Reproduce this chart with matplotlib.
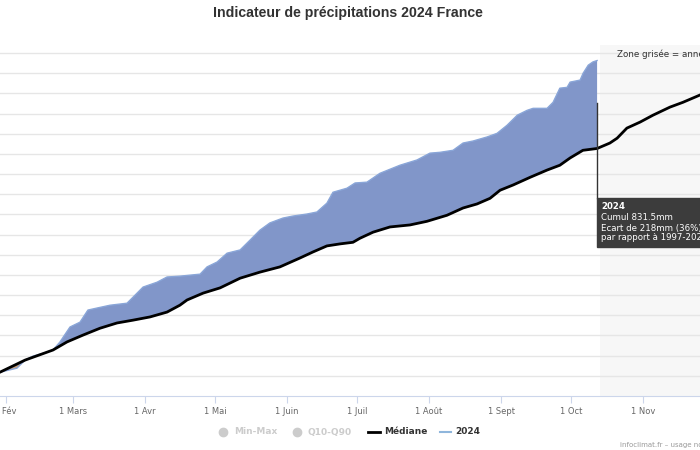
import numpy as np
import pandas as pd
import matplotlib
matplotlib.use("Agg")
import matplotlib.pyplot as plt
from matplotlib.lines import Line2D
from matplotlib.patches import Rectangle

# jours depuis le 1er janvier 2024 et cumul en mm
jours_2024 = [0, 16, 28.6, 35.9, 39.4, 42.8, 47.9, 51.4, 54.4, 58.7, 63, 66.4, 70.3, 75.9,
              83.2, 85.8, 90.1, 96.1, 100.4, 105.9, 114.6, 117.6, 121.9, 126.2, 131.8,
              136, 140.3, 144.6, 150.2, 154.5, 160.5, 164.8, 169.1, 171.7, 177.7, 181.2,
              186.3, 191.9, 196.2, 200.5, 207.8, 213.4, 217.7, 223.3, 227.6, 231.9, 237.9,
              242.2, 246.5, 250.9, 255.1, 257.7, 263.7, 266.3, 269.2, 272.3, 273.6, 277.9,
              279.2, 281.4, 283.4, 285.2]
cumul_2024 = [0, 31, 59, 69, 89, 99, 107, 114, 134, 171, 183, 213, 218, 225,
              230, 245, 270, 282, 295, 297, 302, 320, 332, 354, 362,
              386, 411, 429, 441, 446, 451, 456, 478, 505, 515, 528,
              530, 552, 562, 572, 585, 602, 604, 609, 627, 632, 642,
              651, 671, 696, 708, 713, 713, 728, 763, 765, 778, 783,
              800, 820, 828, 831.5]

jours_med = [0, 16, 28.6, 39.4, 51.4, 57.4, 64.3, 71.6, 78.9, 85.8, 93.1, 100.4, 105.9,
             109, 115.9, 123.2, 131.8, 140.3, 148.9, 157.5, 163.1, 169.1, 174.7, 180.3,
             183.3, 188.9, 196.2, 204.8, 212.1, 220.7, 227.6, 233.6, 239.2, 243.5, 249.1,
             256.4, 263.7, 269.2, 273.6, 279.1, 285.2, 290.7, 293.8, 298, 303.7, 309.2,
             316.5, 322.1, 329.4, 337, 345, 355, 365]
mediane = [0, 30, 59, 89, 114, 134, 151, 168, 181, 188, 196, 208, 225,
           238, 255, 268, 292, 307, 320, 342, 357, 372, 377, 381,
           391, 406, 419, 424, 433, 448, 466, 476, 490, 510, 523,
           542, 560, 572, 590, 609, 613.5, 627, 639, 664, 679, 696,
           716, 728, 746, 762, 781, 800, 818]

mois = ["1 Janv", "1 Fév", "1 Mars", "1 Avr", "1 Mai", "1 Juin", "1 Juil",
        "1 Août", "1 Sept", "1 Oct", "1 Nov", "1 Déc"]
debut_zone = 286.5

debut = pd.Timestamp("2024-01-01")
d24 = debut + pd.to_timedelta(jours_2024, unit="D")
dmed = debut + pd.to_timedelta(jours_med, unit="D")

fig = plt.figure(figsize=(7, 4.5), dpi=100)
W, H = 700, 450
ax = fig.add_axes([-66.6 / W, 1 - 396 / H, 849.4 / W, 351 / H])

ax.axvspan(debut + pd.Timedelta(days=debut_zone), debut + pd.Timedelta(days=366),
           color="#f7f7f7", zorder=0, lw=0)

# surface entre 2024 et la médiane
k = jours_med.index(285.2)
px = list(d24) + list(dmed[:k + 1][::-1])
py = cumul_2024 + mediane[:k + 1][::-1]
ax.fill(px, py, color="#8196c9", lw=0, zorder=2)
ax.fill(list(d24[2:5]) + list(dmed[2:4][::-1]), cumul_2024[2:5] + mediane[2:4][::-1],
        color="#c9a27e", lw=0, zorder=2)
ax.plot(d24, cumul_2024, color="#8aa6d8", lw=1, zorder=3)
ax.plot(dmed, mediane, color="black", lw=2, zorder=4, solid_capstyle="round")

ax.set_ylim(0, 870)
ax.set_xlim(debut, debut + pd.Timedelta(days=365))
ax.set_yticks(np.arange(50, 870, 50))
ax.grid(axis="y", color="#e6e6e6", lw=1)
ax.set_axisbelow(True)
ax.set_yticklabels([])
ax.tick_params(axis="y", length=0)

ticks = pd.date_range("2024-01-01", "2024-12-01", freq="MS")
ax.set_xticks(ticks)
ax.set_xticklabels(mois, fontsize=6, color="#666666")
ax.tick_params(axis="x", length=5, color="#ccd6eb", pad=3)
for s in ["top", "right", "left"]:
    ax.spines[s].set_visible(False)
ax.spines["bottom"].set_color("#ccd6eb")

# curseur et infobulle
fin = debut + pd.Timedelta(days=285.2)
ax.plot([fin, fin], [(396 - 198) * 2.477, (396 - 103) * 2.477], color="#333333",
        lw=1, zorder=5)
fig.add_artist(Rectangle((597 / W, 1 - 247 / H), 120 / W, 49 / H,
                         transform=fig.transFigure, color="#3c3c3c", zorder=6))
lignes = ["Cumul 831.5mm", "Ecart de 218mm (36%)", "par rapport à 1997-2022"]
fig.text(601 / W, 1 - 207 / H, "2024", color="white", fontsize=6.2,
         fontweight="bold", va="center", zorder=7)
for i, t in enumerate(lignes):
    fig.text(601 / W, 1 - (218 + 10 * i) / H, t, color="white", fontsize=6.2,
             va="center", zorder=7)

fig.text(617 / W, 1 - 54 / H, "Zone grisée = année non écoulée", fontsize=6.3,
         color="#333333", va="center")

fig.text(0.497, 1 - 13 / H, "Indicateur de précipitations 2024 France",
         fontsize=10.2, fontweight="bold", color="#333333", ha="center",
         va="center", family="Liberation Sans")

# légende
ly = 1 - 432 / H
fig.add_artist(Line2D([223 / W], [ly], marker="o", ms=6, color="#cccccc", lw=0))
fig.text(234 / W, ly, "Min-Max", fontsize=6.5, fontweight="bold", color="#cccccc",
         va="center")
fig.add_artist(Line2D([297 / W], [ly], marker="o", ms=6, color="#cccccc", lw=0))
fig.text(308 / W, ly, "Q10-Q90", fontsize=6.5, fontweight="bold", color="#cccccc",
         va="center")
fig.add_artist(Line2D([368 / W, 380 / W], [ly, ly], color="black", lw=2))
fig.text(384 / W, ly, "Médiane", fontsize=6.5, fontweight="bold", color="#333333",
         va="center")
fig.add_artist(Line2D([440 / W, 451 / W], [ly, ly], color="#8fb6dc", lw=1.5))
fig.text(455 / W, ly, "2024", fontsize=6.5, fontweight="bold", color="#333333",
         va="center")

fig.text(620 / W, 1 - 445 / H, "infoclimat.fr – usage non commercial", fontsize=5,
         color="#999999", va="center")

fig.savefig("out.png", dpi=100)
